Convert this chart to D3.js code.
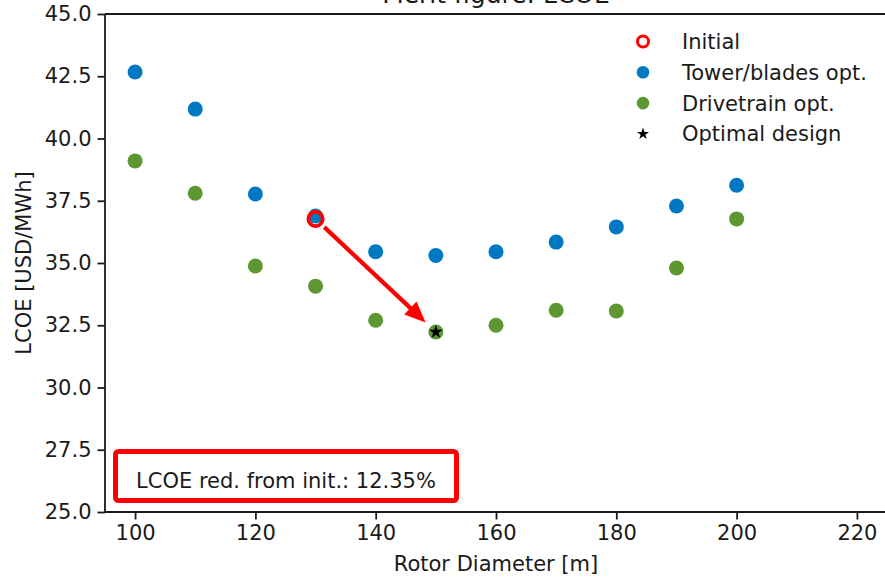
<!DOCTYPE html>
<html>
<head>
<meta charset="utf-8">
<script src="https://cdn.jsdelivr.net/npm/d3@7"></script>
<style>
  html, body { margin: 0; padding: 0; background: #fff; }
  svg { display: block; font-family: "DejaVu Sans", sans-serif; }
</style>
</head>
<body>
<svg id="chart" width="885" height="577"></svg>
<script>
// Rotor diameters swept [m]
const diameters = [100, 110, 120, 130, 140, 150, 160, 170, 180, 190, 200];
// LCOE after tower/blades optimisation [USD/MWh]
const towerBladesLcoe = [42.67, 41.18, 37.77, 36.89, 35.45, 35.30, 35.45, 35.84, 36.45, 37.29, 38.12];
// LCOE after drivetrain optimisation [USD/MWh]
const drivetrainLcoe = [39.10, 37.80, 34.88, 34.07, 32.70, 32.23, 32.50, 33.10, 33.07, 34.80, 36.77];
// Starting design and best design
const initialDesign = { d: 130, lcoe: 36.77 };
const optimalDesign = { d: 150, lcoe: 32.23 };
const xTicks = [100, 120, 140, 160, 180, 200, 220];
const yTicks = [25.0, 27.5, 30.0, 32.5, 35.0, 37.5, 40.0, 42.5, 45.0];
const legendLabels = ["Initial", "Tower/blades opt.", "Drivetrain opt.", "Optimal design"];

const BLUE = "#0079C2", GREEN = "#5D9732", RED = "#FF0000", INK = "#1a1a1a";
const FONT = 21;

const svg = d3.select("#chart");
const plotLeft = 105, plotTop = 14, plotBottom = 512, plotRight = 887;

const x = d3.scaleLinear().domain([95, 225]).range([plotLeft, plotRight]);
const y = d3.scaleLinear().domain([25, 45]).range([plotBottom, plotTop]);

// Title (sits above the top edge of the canvas)
svg.append("text")
  .attr("x", (plotLeft + plotRight) / 2).attr("y", 3)
  .attr("text-anchor", "middle")
  .attr("font-size", 25).attr("fill", INK)
  .text("Merit figure: LCOE");

// Axes
const xAxis = svg.append("g")
  .attr("transform", `translate(0,${plotBottom})`)
  .call(d3.axisBottom(x).tickValues(xTicks).tickSize(7.5).tickPadding(6).tickFormat(d3.format("d")));
const yAxis = svg.append("g")
  .attr("transform", `translate(${plotLeft},0)`)
  .call(d3.axisLeft(y).tickValues(yTicks).tickSize(7.5).tickPadding(6).tickFormat(d3.format(".1f")));

[xAxis, yAxis].forEach(g => {
  g.select(".domain").remove();
  g.selectAll(".tick line").attr("stroke", INK).attr("stroke-width", 1.8);
  g.selectAll(".tick text").attr("font-size", FONT).attr("fill", INK)
    .attr("font-family", "DejaVu Sans, sans-serif");
});

// Spines: left, bottom and top
const spine = svg.append("g").attr("stroke", INK).attr("stroke-width", 1.8).attr("fill", "none");
spine.append("path").attr("d", `M${plotLeft},${plotTop}V${plotBottom}H${plotRight}`);
spine.append("path").attr("d", `M${plotLeft},${plotTop}H${plotRight}`);

// Axis titles
svg.append("text")
  .attr("x", (plotLeft + plotRight) / 2).attr("y", 571)
  .attr("text-anchor", "middle").attr("font-size", FONT).attr("fill", INK)
  .text("Rotor Diameter [m]");
svg.append("text")
  .attr("transform", `translate(31,${(plotTop + plotBottom) / 2}) rotate(-90)`)
  .attr("text-anchor", "middle").attr("font-size", FONT).attr("fill", INK)
  .text("LCOE [USD/MWh]");

const plot = svg.append("g");

// Tower/blades optimised designs
plot.selectAll("circle.tb").data(diameters).join("circle")
  .attr("class", "tb")
  .attr("cx", d => x(d))
  .attr("cy", (d, i) => y(towerBladesLcoe[i]))
  .attr("r", 7.5).attr("fill", BLUE);

// Drivetrain optimised designs
plot.selectAll("circle.dt").data(diameters).join("circle")
  .attr("class", "dt")
  .attr("cx", d => x(d))
  .attr("cy", (d, i) => y(drivetrainLcoe[i]))
  .attr("r", 7.5).attr("fill", GREEN);

// Initial design ring
plot.append("circle")
  .attr("cx", x(initialDesign.d)).attr("cy", y(initialDesign.lcoe))
  .attr("r", 7.2).attr("fill", "none").attr("stroke", RED).attr("stroke-width", 3.8);

// Optimal design star
plot.append("path")
  .attr("transform", `translate(${x(optimalDesign.d)},${y(optimalDesign.lcoe)})`)
  .attr("d", d3.symbol(d3.symbolStar, 60)())
  .attr("fill", "#000");

// Arrow from initial to optimal design
(function drawArrow() {
  const ax = x(initialDesign.d), ay = y(initialDesign.lcoe);
  const bx = x(optimalDesign.d), by = y(optimalDesign.lcoe);
  const len = Math.hypot(bx - ax, by - ay);
  const ux = (bx - ax) / len, uy = (by - ay) / len;
  const nx = -uy, ny = ux;
  const sx = ax + ux * 12, sy = ay + uy * 12;
  const tx = bx - ux * 14, ty = by - uy * 14;
  const headLen = 21, headHalf = 9;
  const hx = tx - ux * headLen, hy = ty - uy * headLen;
  plot.append("line")
    .attr("x1", sx).attr("y1", sy).attr("x2", hx + ux * 2).attr("y2", hy + uy * 2)
    .attr("stroke", RED).attr("stroke-width", 4.2);
  plot.append("path")
    .attr("d", `M${tx},${ty}L${hx + nx * headHalf},${hy + ny * headHalf}L${hx - nx * headHalf},${hy - ny * headHalf}Z`)
    .attr("fill", RED);
})();

// Reduction annotation box
const reduction = (initialDesign.lcoe - optimalDesign.lcoe) / initialDesign.lcoe * 100;
svg.append("rect")
  .attr("x", 115.5).attr("y", 451.5).attr("width", 341).attr("height", 49)
  .attr("rx", 3).attr("fill", "#fff").attr("stroke", RED).attr("stroke-width", 5);
svg.append("text")
  .attr("x", 286).attr("y", 488)
  .attr("text-anchor", "middle").attr("font-size", FONT).attr("fill", INK)
  .text(`LCOE red. from init.: ${reduction.toFixed(2)}%`);

// Legend
const legend = svg.append("g");
const lx = 643, ly0 = 41.5, dy = 30.8;
legendLabels.forEach((label, i) => {
  const cy = ly0 + i * dy;
  if (i === 0) {
    legend.append("circle").attr("cx", lx).attr("cy", cy).attr("r", 5.5)
      .attr("fill", "#fff").attr("stroke", RED).attr("stroke-width", 3);
  } else if (i === 1) {
    legend.append("circle").attr("cx", lx).attr("cy", cy).attr("r", 6.3).attr("fill", BLUE);
  } else if (i === 2) {
    legend.append("circle").attr("cx", lx).attr("cy", cy).attr("r", 6.3).attr("fill", GREEN);
  } else {
    legend.append("path").attr("transform", `translate(${lx},${cy})`)
      .attr("d", d3.symbol(d3.symbolStar, 45)()).attr("fill", "#000");
  }
  legend.append("text")
    .attr("x", 682).attr("y", cy + 7.5)
    .attr("font-size", FONT).attr("fill", INK)
    .text(label);
});
</script>
</body>
</html>
